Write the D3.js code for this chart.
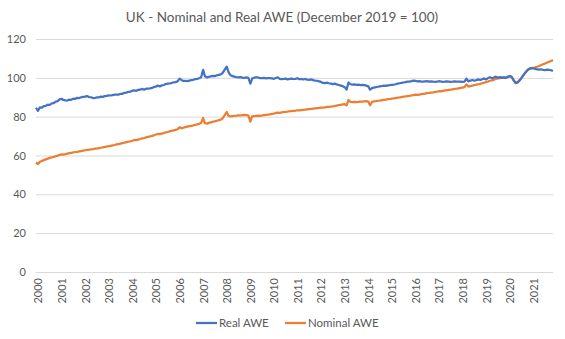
<!DOCTYPE html>
<html>
<head>
<meta charset="utf-8">
<script src="https://cdn.jsdelivr.net/npm/d3@7"></script>
<style>
  html, body { margin: 0; padding: 0; background: #fff; }
  svg { display: block; font-family: Lato, "Open Sans", sans-serif; }
</style>
</head>
<body>
<svg id="chart" width="565" height="339"></svg>
<script>
// Monthly index values, Jan 2000 – Dec 2021 (December 2019 = 100)
const startYear = 2000;
const yearLabels = ["2000","2001","2002","2003","2004","2005","2006","2007","2008","2009","2010",
  "2011","2012","2013","2014","2015","2016","2017","2018","2019","2020","2021"];
const yTicks = [0, 20, 40, 60, 80, 100, 120];
const seriesNames = ["Real AWE", "Nominal AWE"];

const realAwe = [
  84.6, 83.0, 84.8, 84.6, 85.4, 85.6, 86.2, 86.0, 86.9, 87.0, 87.8, 88.0,
  88.9, 89.2, 88.6, 88.4, 88.3, 88.8, 88.7, 89.3, 89.2, 89.7, 89.6, 90.0,
  90.2, 90.3, 90.6, 90.1, 90.0, 89.6, 89.6, 89.9, 89.9, 90.3, 90.2, 90.6,
  90.7, 91.0, 90.9, 91.1, 91.3, 91.4, 91.3, 91.8, 91.8, 92.3, 92.4, 92.8,
  92.9, 93.4, 93.5, 93.3, 93.8, 93.9, 94.3, 93.9, 94.4, 94.5, 94.6, 94.8,
  95.3, 95.5, 96.0, 95.6, 96.1, 96.3, 96.8, 97.0, 97.1, 97.3, 97.7, 97.8,
  98.2, 99.6, 98.9, 98.4, 98.5, 98.3, 98.6, 98.8, 99.0, 99.3, 99.5, 99.8,
  100.3, 104.1, 100.8, 100.2, 100.5, 100.8, 101.0, 100.9, 101.3, 101.5, 101.8, 102.6,
  104.2, 105.8, 102.8, 101.3, 100.9, 100.6, 100.3, 100.2, 100.4, 100.1, 100.0, 100.2,
  100.0, 97.0, 99.6, 100.1, 100.3, 100.2, 99.8, 99.9, 100.0, 99.7, 99.8, 99.9,
  99.7, 99.5, 99.9, 100.2, 99.5, 99.3, 99.4, 99.6, 99.2, 99.5, 99.6, 99.4,
  99.5, 99.8, 99.3, 99.4, 99.2, 99.4, 99.1, 99.0, 99.2, 98.8, 98.6, 98.5,
  98.2, 97.9, 97.4, 97.3, 97.5, 97.2, 97.0, 96.8, 97.0, 96.6, 96.3, 96.0,
  95.7, 95.2, 93.9, 97.6, 96.7, 96.5, 96.6, 96.4, 96.5, 96.3, 96.4, 96.2,
  96.0, 95.6, 93.9, 94.7, 95.0, 95.2, 95.4, 95.6, 95.8, 96.0, 95.9, 96.1,
  96.2, 96.4, 96.5, 96.7, 97.0, 97.2, 97.4, 97.6, 97.8, 98.0, 98.1, 98.3,
  98.6, 98.4, 98.2, 98.3, 98.1, 98.0, 98.2, 98.3, 98.1, 98.2, 98.0, 97.9,
  98.0, 98.3, 98.1, 97.9, 98.0, 98.2, 98.1, 97.9, 98.0, 98.2, 98.1, 98.0,
  98.1, 97.9, 98.0, 99.6, 98.2, 98.6, 98.9, 98.5, 98.8, 99.2, 98.9, 99.3,
  99.6, 99.2, 99.9, 100.3, 99.8, 100.2, 100.6, 100.1, 100.4, 100.0, 100.2, 100.0,
  100.5, 101.0, 100.4, 98.6, 97.3, 97.6, 98.6, 100.0, 101.4, 102.8, 104.0, 104.8,
  105.0, 104.8, 104.6, 104.3, 104.2, 104.4, 104.1, 104.0, 104.2, 104.1, 103.9, 103.5
];

const nominalAwe = [
  56.4, 55.6, 56.8, 57.2, 57.6, 58.0, 58.4, 58.8, 59.0, 59.3, 59.6, 59.9,
  60.3, 60.6, 60.5, 60.7, 61.0, 61.2, 61.4, 61.6, 61.8, 61.9, 62.1, 62.3,
  62.5, 62.7, 62.9, 63.0, 63.2, 63.3, 63.5, 63.6, 63.8, 64.0, 64.2, 64.4,
  64.6, 64.8, 65.0, 65.2, 65.4, 65.7, 65.9, 66.1, 66.4, 66.6, 66.9, 67.1,
  67.3, 67.6, 68.0, 67.9, 68.2, 68.5, 68.8, 69.0, 69.3, 69.6, 69.8, 70.1,
  70.4, 70.8, 71.1, 71.0, 71.3, 71.6, 71.9, 72.1, 72.4, 72.7, 72.9, 73.2,
  73.5, 74.6, 74.0, 74.3, 74.6, 74.9, 75.1, 75.3, 75.5, 75.8, 76.0, 76.3,
  76.8, 79.3, 76.6, 76.4, 76.8, 77.1, 77.4, 77.6, 77.9, 78.2, 78.5, 79.2,
  80.8, 82.4, 80.4, 80.2, 80.3, 80.4, 80.5, 80.7, 80.6, 80.8, 80.9, 80.8,
  80.5, 77.4, 80.1, 80.3, 80.4, 80.5, 80.4, 80.6, 80.8, 80.9, 81.0, 81.2,
  81.4, 81.6, 81.9, 82.1, 82.0, 82.2, 82.4, 82.5, 82.6, 82.8, 82.9, 83.0,
  83.1, 83.3, 83.2, 83.4, 83.5, 83.6, 83.8, 83.9, 84.0, 84.2, 84.3, 84.4,
  84.5, 84.7, 84.6, 84.8, 85.0, 85.1, 85.2, 85.3, 85.5, 85.7, 85.9, 86.1,
  86.3, 86.5, 85.8, 88.6, 87.6, 87.5, 87.6, 87.5, 87.6, 87.8, 87.7, 87.9,
  88.0, 87.8, 85.9, 87.6, 87.9, 88.0, 88.2, 88.3, 88.5, 88.7, 88.8, 89.0,
  89.1, 89.3, 89.4, 89.6, 89.8, 89.9, 90.1, 90.3, 90.4, 90.6, 90.7, 90.9,
  91.1, 91.3, 91.2, 91.4, 91.6, 91.7, 91.9, 92.1, 92.2, 92.4, 92.5, 92.7,
  92.9, 93.1, 93.0, 93.3, 93.5, 93.6, 93.8, 93.9, 94.1, 94.3, 94.4, 94.6,
  94.8, 95.0, 95.2, 96.6, 95.5, 95.7, 96.0, 96.2, 96.5, 96.7, 96.9, 97.2,
  97.5, 97.8, 98.1, 98.5, 98.7, 99.1, 99.4, 99.7, 99.9, 100.1, 100.2, 100.0,
  100.4, 100.9, 100.5, 98.8, 97.5, 97.8, 98.8, 100.1, 101.5, 102.8, 103.9, 104.6,
  105.0, 105.2, 105.4, 105.7, 106.1, 106.6, 107.0, 107.4, 107.9, 108.3, 108.7, 109.1
];

const colors = { real: "#4472C4", nominal: "#ED7D31" };
const textColor = "#595959";
const gridColor = "#d9d9d9";

const svg = d3.select("#chart");
const plot = { left: 36, right: 553, top: 39, bottom: 272 };

const monthOf = i => new Date(startYear, i, 1);
const months = d3.range(realAwe.length).map(monthOf);

const x = d3.scaleTime()
  .domain([months[0], months[months.length - 1]])
  .range([plot.left, plot.right]);
const y = d3.scaleLinear().domain([0, 120]).range([plot.bottom, plot.top]);

// Title
svg.append("text")
  .attr("x", 282).attr("y", 22)
  .attr("text-anchor", "middle")
  .attr("fill", textColor)
  .attr("font-size", 13.5)
  .text("UK - Nominal and Real AWE (December 2019 = 100)");

// Horizontal gridlines + y tick labels
const yAxis = d3.axisLeft(y).tickValues(yTicks).tickSize(-(plot.right - plot.left)).tickPadding(10);
const gy = svg.append("g").attr("transform", `translate(${plot.left},0)`).call(yAxis);
gy.select(".domain").remove();
gy.selectAll(".tick line").attr("stroke", gridColor).attr("stroke-width", 1);
gy.selectAll(".tick text").attr("fill", textColor).attr("font-size", 11).attr("font-family", "Lato, sans-serif");

// X axis: one label per January, rotated
const tickDates = yearLabels.map(yl => new Date(+yl, 0, 1));
const xAxis = d3.axisBottom(x).tickValues(tickDates).tickFormat(d3.timeFormat("%Y")).tickSize(0);
const gx = svg.append("g").attr("transform", `translate(0,${plot.bottom})`).call(xAxis);
gx.select(".domain").remove();
gx.selectAll(".tick text")
  .attr("fill", textColor)
  .attr("font-size", 11)
  .attr("font-family", "Lato, sans-serif")
  .attr("text-anchor", "end")
  .attr("dy", "0.35em")
  .attr("transform", "translate(2,6) rotate(-90)")
  .attr("x", 0).attr("y", 0);

// Lines
const line = d3.line().x((d, i) => x(months[i])).y(d => y(d));
svg.append("path").datum(nominalAwe)
  .attr("fill", "none").attr("stroke", colors.nominal).attr("stroke-width", 2.25)
  .attr("stroke-linejoin", "round").attr("d", line);
svg.append("path").datum(realAwe)
  .attr("fill", "none").attr("stroke", colors.real).attr("stroke-width", 2.25)
  .attr("stroke-linejoin", "round").attr("d", line);

// Legend
const legend = svg.append("g").attr("transform", "translate(0,323)");
const items = [
  { name: seriesNames[0], color: colors.real, x: 196 },
  { name: seriesNames[1], color: colors.nominal, x: 285 }
];
items.forEach(it => {
  legend.append("line").attr("x1", it.x).attr("x2", it.x + 21).attr("y1", 0).attr("y2", 0)
    .attr("stroke", it.color).attr("stroke-width", 2.25);
  legend.append("text").attr("x", it.x + 23).attr("y", 0).attr("dy", "0.35em")
    .attr("fill", textColor).attr("font-size", 11.5).text(it.name);
});
</script>
</body>
</html>
